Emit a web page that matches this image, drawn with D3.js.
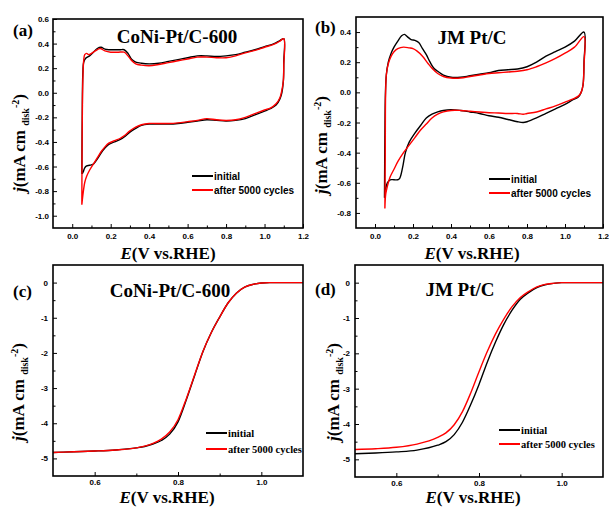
<!DOCTYPE html>
<meta charset="utf-8">
<html>
<head>
<script src="https://d3js.org/d3.v7.min.js"></script>
<style>
  body { margin: 0; background: #fff; }
  svg { display: block; }
  .tick text { font-family: "Liberation Sans", Arial, sans-serif; font-weight: bold; font-size: 8px; fill: #000; }
  .tick line { stroke: #000; stroke-width: 1; }
  .serif { font-family: "Liberation Serif", "Times New Roman", serif; font-weight: bold; fill: #000; }
</style>
</head>
<body>
<svg width="609" height="507"></svg>
<script>

// ---- data ----
// CV loops, panel (a) CoNi-Pt/C-600 : [E (V), j (mA cm-2)]
var cvA_initial = [
  [0.050,-0.66],[0.052,-0.20],[0.055,0.15],[0.060,0.25],[0.070,0.28],[0.090,0.30],[0.110,0.33],[0.130,0.36],
  [0.150,0.37],[0.170,0.355],[0.190,0.35],[0.220,0.35],[0.250,0.35],[0.270,0.35],[0.290,0.32],[0.310,0.27],
  [0.330,0.25],[0.360,0.24],[0.400,0.235],[0.450,0.24],[0.500,0.255],[0.550,0.27],[0.600,0.285],[0.650,0.30],
  [0.700,0.30],[0.750,0.295],[0.800,0.30],[0.850,0.31],[0.900,0.33],[0.950,0.35],[1.000,0.375],[1.050,0.40],
  [1.080,0.425],[1.100,0.44],
  [1.100,0.25],[1.098,0.10],[1.090,0.00],[1.080,-0.05],[1.060,-0.10],[1.030,-0.13],[1.000,-0.15],[0.950,-0.18],
  [0.900,-0.21],[0.850,-0.225],[0.800,-0.23],[0.750,-0.225],[0.700,-0.22],[0.650,-0.23],[0.600,-0.24],
  [0.550,-0.25],[0.500,-0.255],[0.450,-0.255],[0.400,-0.255],[0.360,-0.265],[0.330,-0.29],[0.300,-0.32],
  [0.270,-0.36],[0.250,-0.38],[0.220,-0.40],[0.190,-0.42],[0.170,-0.45],[0.150,-0.49],[0.130,-0.54],
  [0.110,-0.58],[0.090,-0.59],[0.075,-0.595],[0.065,-0.61],[0.058,-0.64],[0.052,-0.66]
];
var cvA_after = [
  [0.050,-0.91],[0.051,-0.50],[0.053,-0.10],[0.056,0.15],[0.060,0.27],[0.065,0.31],[0.075,0.32],[0.085,0.31],
  [0.100,0.32],[0.120,0.34],[0.145,0.36],[0.170,0.34],[0.200,0.33],[0.240,0.33],[0.270,0.33],[0.290,0.30],
  [0.310,0.26],[0.330,0.235],[0.360,0.225],[0.400,0.22],[0.450,0.23],[0.500,0.245],[0.550,0.26],[0.600,0.275],
  [0.650,0.29],[0.700,0.29],[0.750,0.285],[0.800,0.285],[0.850,0.30],[0.900,0.325],[0.950,0.345],[1.000,0.37],
  [1.050,0.395],[1.080,0.42],[1.100,0.44],
  [1.100,0.22],[1.098,0.10],[1.090,0.02],[1.080,-0.04],[1.060,-0.09],[1.030,-0.125],[1.000,-0.14],[0.950,-0.17],
  [0.900,-0.20],[0.850,-0.22],[0.800,-0.225],[0.750,-0.22],[0.700,-0.21],[0.650,-0.225],[0.600,-0.235],
  [0.550,-0.245],[0.500,-0.25],[0.450,-0.25],[0.400,-0.25],[0.360,-0.26],[0.330,-0.28],[0.300,-0.31],
  [0.270,-0.35],[0.250,-0.37],[0.220,-0.39],[0.190,-0.41],[0.170,-0.44],[0.150,-0.48],[0.130,-0.53],
  [0.110,-0.58],[0.090,-0.63],[0.075,-0.68],[0.065,-0.73],[0.058,-0.80],[0.052,-0.88],[0.050,-0.91]
];

// CV loops, panel (b) JM Pt/C
var cvB_initial = [
  [0.050,-0.70],[0.052,-0.30],[0.055,0.00],[0.060,0.12],[0.070,0.20],[0.085,0.26],[0.100,0.30],[0.120,0.34],
  [0.140,0.375],[0.155,0.385],[0.170,0.37],[0.190,0.35],[0.210,0.345],[0.230,0.33],[0.250,0.29],[0.270,0.25],
  [0.290,0.20],[0.310,0.16],[0.330,0.14],[0.360,0.115],[0.400,0.10],[0.450,0.10],[0.500,0.11],[0.550,0.12],
  [0.600,0.13],[0.650,0.145],[0.700,0.15],[0.750,0.155],[0.800,0.17],[0.850,0.20],[0.900,0.24],[0.950,0.27],
  [1.000,0.30],[1.050,0.34],[1.100,0.40],
  [1.100,0.20],[1.095,0.05],[1.085,0.00],[1.070,-0.03],[1.040,-0.05],[1.000,-0.08],[0.950,-0.11],[0.900,-0.14],
  [0.850,-0.17],[0.800,-0.195],[0.780,-0.20],[0.750,-0.195],[0.700,-0.18],[0.650,-0.165],[0.600,-0.155],
  [0.550,-0.14],[0.500,-0.13],[0.450,-0.12],[0.400,-0.115],[0.360,-0.12],[0.330,-0.13],[0.300,-0.145],
  [0.270,-0.17],[0.240,-0.22],[0.210,-0.27],[0.180,-0.33],[0.160,-0.40],[0.145,-0.50],[0.130,-0.57],
  [0.120,-0.58],[0.100,-0.58],[0.080,-0.58],[0.065,-0.60],[0.055,-0.65],[0.050,-0.70]
];
var cvB_after = [
  [0.052,-0.77],[0.054,-0.40],[0.056,0.00],[0.060,0.12],[0.070,0.19],[0.085,0.24],[0.100,0.27],[0.120,0.29],
  [0.150,0.30],[0.180,0.295],[0.200,0.29],[0.220,0.275],[0.250,0.24],[0.280,0.19],[0.300,0.16],[0.330,0.125],
  [0.360,0.105],[0.400,0.095],[0.450,0.095],[0.500,0.105],[0.550,0.115],[0.600,0.125],[0.650,0.13],[0.700,0.135],
  [0.750,0.14],[0.800,0.15],[0.850,0.17],[0.900,0.195],[0.950,0.225],[1.000,0.26],[1.050,0.30],[1.100,0.37],
  [1.100,0.18],[1.095,0.05],[1.085,0.00],[1.070,-0.025],[1.040,-0.045],[1.000,-0.065],[0.950,-0.09],[0.900,-0.11],
  [0.850,-0.13],[0.800,-0.14],[0.780,-0.145],[0.750,-0.14],[0.700,-0.14],[0.650,-0.137],[0.600,-0.135],
  [0.550,-0.13],[0.500,-0.125],[0.450,-0.12],[0.400,-0.12],[0.360,-0.13],[0.330,-0.145],[0.300,-0.17],
  [0.270,-0.21],[0.240,-0.25],[0.210,-0.30],[0.180,-0.35],[0.150,-0.40],[0.120,-0.46],[0.100,-0.51],
  [0.080,-0.56],[0.070,-0.60],[0.062,-0.64],[0.056,-0.68],[0.052,-0.77]
];

// LSV (ORR polarisation) curves
var lsvE         = [0.50, 0.55, 0.60, 0.65, 0.70, 0.72, 0.74, 0.76, 0.78, 0.80, 0.82, 0.84, 0.86, 0.88, 0.90, 0.92, 0.94, 0.96, 0.98, 1.00, 1.02, 1.05, 1.10];
var lsvC_initial = [-4.83,-4.81,-4.79,-4.76,-4.70,-4.66,-4.59,-4.49,-4.31,-3.96,-3.33,-2.64,-1.96,-1.42,-0.98,-0.58,-0.30,-0.13,-0.05,-0.01,0,0,0];
var lsvC_after   = [-4.83,-4.81,-4.79,-4.76,-4.70,-4.65,-4.57,-4.45,-4.25,-3.90,-3.30,-2.62,-1.95,-1.42,-0.98,-0.58,-0.30,-0.13,-0.05,-0.01,0,0,0];
var lsvD_initial = [-4.84,-4.82,-4.79,-4.74,-4.60,-4.50,-4.30,-3.95,-3.45,-2.88,-2.25,-1.68,-1.18,-0.78,-0.47,-0.28,-0.14,-0.06,-0.02,0,0,0,0];
var lsvD_after   = [-4.72,-4.70,-4.66,-4.57,-4.38,-4.25,-4.02,-3.65,-3.12,-2.52,-1.95,-1.45,-1.03,-0.68,-0.42,-0.25,-0.12,-0.05,-0.02,0,0,0,0];

// tick values
var cvXTicks  = [0.0, 0.2, 0.4, 0.6, 0.8, 1.0, 1.2];
var cvXMinor  = [0.1, 0.3, 0.5, 0.7, 0.9, 1.1];
var cvAYTicks = [-1.0, -0.8, -0.6, -0.4, -0.2, 0.0, 0.2, 0.4, 0.6];
var cvAYMinor = [-0.9, -0.7, -0.5, -0.3, -0.1, 0.1, 0.3, 0.5];
var cvBYTicks = [-0.8, -0.6, -0.4, -0.2, 0.0, 0.2, 0.4];
var cvBYMinor = [-0.7, -0.5, -0.3, -0.1, 0.1, 0.3];
var lsvXTicks = [0.6, 0.8, 1.0];
var lsvXMinor = [0.7, 0.9];
var lsvYTicks = [-5, -4, -3, -2, -1, 0];
var lsvYMinor = [-4.5, -3.5, -2.5, -1.5, -0.5];

var seriesNames  = ["initial", "after 5000 cycles"];
var seriesColors = ["#000000", "#ff0000"];

var svg = d3.select("svg");

function fix(f) { return function(d) { return f(d).replace("\u2212", "-"); }; }

function drawPanel(p) {
  var g = svg.append("g");
  var x = d3.scaleLinear().domain(p.xDomain).range([p.left, p.right]);
  var y = d3.scaleLinear().domain(p.yDomain).range([p.bottom, p.top]);

  // axes (ticks pointing inwards)
  g.append("g").attr("transform", "translate(0," + p.bottom + ")")
    .call(d3.axisBottom(x).tickValues(p.xTicks).tickSize(-4).tickPadding(p.xPad).tickFormat(fix(d3.format(".1f"))))
    .call(function(a) { a.select(".domain").remove(); });
  g.append("g").attr("transform", "translate(0," + p.bottom + ")")
    .call(d3.axisBottom(x).tickValues(p.xMinor).tickSize(-2.5).tickFormat(""))
    .call(function(a) { a.select(".domain").remove(); });
  g.append("g").attr("transform", "translate(" + p.left + ",0)")
    .call(d3.axisLeft(y).tickValues(p.yTicks).tickSize(-4).tickPadding(p.yPad).tickFormat(fix(d3.format(p.yFmt))))
    .call(function(a) { a.select(".domain").remove(); });
  g.append("g").attr("transform", "translate(" + p.left + ",0)")
    .call(d3.axisLeft(y).tickValues(p.yMinor).tickSize(-2.5).tickFormat(""))
    .call(function(a) { a.select(".domain").remove(); });

  // curves
  var line = d3.line()
    .x(function(d) { return x(d[0]); })
    .y(function(d) { return y(d[1]); })
    .curve(p.curve);
  p.series.forEach(function(s, i) {
    g.append("path").datum(s)
      .attr("d", line)
      .attr("fill", "none")
      .attr("stroke", seriesColors[i])
      .attr("stroke-width", 1.4)
      .attr("stroke-linejoin", "round");
  });

  // frame
  g.append("rect")
    .attr("x", p.left).attr("y", p.top)
    .attr("width", p.right - p.left).attr("height", p.bottom - p.top)
    .attr("fill", "none").attr("stroke", "#000").attr("stroke-width", 1.6);

  // legend
  seriesNames.forEach(function(name, i) {
    var ly = p.legY + i * p.legGap;
    g.append("line")
      .attr("x1", p.legX).attr("x2", p.legX + 21)
      .attr("y1", ly).attr("y2", ly)
      .attr("stroke", seriesColors[i]).attr("stroke-width", 2);
    g.append("text")
      .attr("x", p.legX + 22).attr("y", ly + 3.5)
      .attr("font-family", p.legSerif ? "'Liberation Serif', serif" : "'Liberation Sans', Arial, sans-serif")
      .attr("font-weight", "bold")
      .attr("font-size", p.legSerif ? 10.5 : 10)
      .text(name);
  });

  // panel letter and title
  g.append("text").attr("class", "serif")
    .attr("x", p.tagX).attr("y", p.tagY).attr("font-size", 17).text(p.tag);
  g.append("text").attr("class", "serif")
    .attr("x", p.titleX).attr("y", p.titleY).attr("font-size", 19)
    .attr("text-anchor", "middle").text(p.title);

  // x label
  var xl = g.append("text").attr("class", "serif")
    .attr("x", p.xLabX).attr("y", p.xLabY).attr("font-size", 17).attr("text-anchor", "middle");
  xl.append("tspan").attr("font-style", "italic").text("E");
  xl.append("tspan").text("(V vs.RHE)");

  // y label
  var yl = g.append("text").attr("class", "serif")
    .attr("transform", "translate(" + p.yLabX + "," + p.yLabY + ") rotate(-90)")
    .attr("font-size", 17).attr("text-anchor", "middle");
  yl.append("tspan").attr("font-style", "italic").text("j");
  yl.append("tspan").text("(mA cm ");
  yl.append("tspan").attr("font-size", 10).attr("dy", 4).text("disk");
  yl.append("tspan").attr("font-size", 10).attr("dy", -10).text("-2");
  yl.append("tspan").attr("dy", 6).text(")");
}

function zipLsv(vals) { return lsvE.map(function(e, i) { return [e, vals[i]]; }); }

var cvCurve = d3.curveCatmullRom.alpha(0.5);

drawPanel({
  left: 53, right: 303, top: 19, bottom: 228,
  xDomain: [-0.1, 1.2], yDomain: [-1.1, 0.6],
  xTicks: cvXTicks, xMinor: cvXMinor, yTicks: cvAYTicks, yMinor: cvAYMinor,
  yFmt: ".1f", xPad: 5, yPad: 4,
  series: [cvA_initial, cvA_after], curve: cvCurve,
  legX: 192, legY: 176, legGap: 14, legSerif: false,
  tag: "(a)", tagX: 13, tagY: 36,
  title: "CoNi-Pt/C-600", titleX: 177, titleY: 43,
  xLabX: 168, xLabY: 259, yLabX: 25, yLabY: 143
});

drawPanel({
  left: 356, right: 603, top: 17, bottom: 228,
  xDomain: [-0.1, 1.2], yDomain: [-0.9, 0.5],
  xTicks: cvXTicks, xMinor: cvXMinor, yTicks: cvBYTicks, yMinor: cvBYMinor,
  yFmt: ".1f", xPad: 5, yPad: 5,
  series: [cvB_initial, cvB_after], curve: cvCurve,
  legX: 489, legY: 179, legGap: 14, legSerif: false,
  tag: "(b)", tagX: 315, tagY: 33,
  title: "JM Pt/C", titleX: 472, titleY: 44,
  xLabX: 472, xLabY: 259, yLabX: 327, yLabY: 145
});

drawPanel({
  left: 53, right: 303, top: 265, bottom: 476,
  xDomain: [0.5, 1.1], yDomain: [-5.5, 0.5],
  xTicks: lsvXTicks, xMinor: lsvXMinor, yTicks: lsvYTicks, yMinor: lsvYMinor,
  yFmt: "d", xPad: 3, yPad: 5,
  series: [zipLsv(lsvC_initial), zipLsv(lsvC_after)], curve: d3.curveMonotoneX,
  legX: 206, legY: 433, legGap: 16, legSerif: true,
  tag: "(c)", tagX: 13, tagY: 297,
  title: "CoNi-Pt/C-600", titleX: 170, titleY: 297,
  xLabX: 167, xLabY: 503, yLabX: 24, yLabY: 392
});

drawPanel({
  left: 355, right: 603, top: 265, bottom: 477,
  xDomain: [0.5, 1.1], yDomain: [-5.5, 0.5],
  xTicks: lsvXTicks, xMinor: lsvXMinor, yTicks: lsvYTicks, yMinor: lsvYMinor,
  yFmt: "d", xPad: 3, yPad: 5,
  series: [zipLsv(lsvD_initial), zipLsv(lsvD_after)], curve: d3.curveMonotoneX,
  legX: 499, legY: 430, legGap: 14, legSerif: true,
  tag: "(d)", tagX: 315, tagY: 295,
  title: "JM Pt/C", titleX: 460, titleY: 296,
  xLabX: 473, xLabY: 503, yLabX: 339, yLabY: 392
});

</script>
</body>
</html>
